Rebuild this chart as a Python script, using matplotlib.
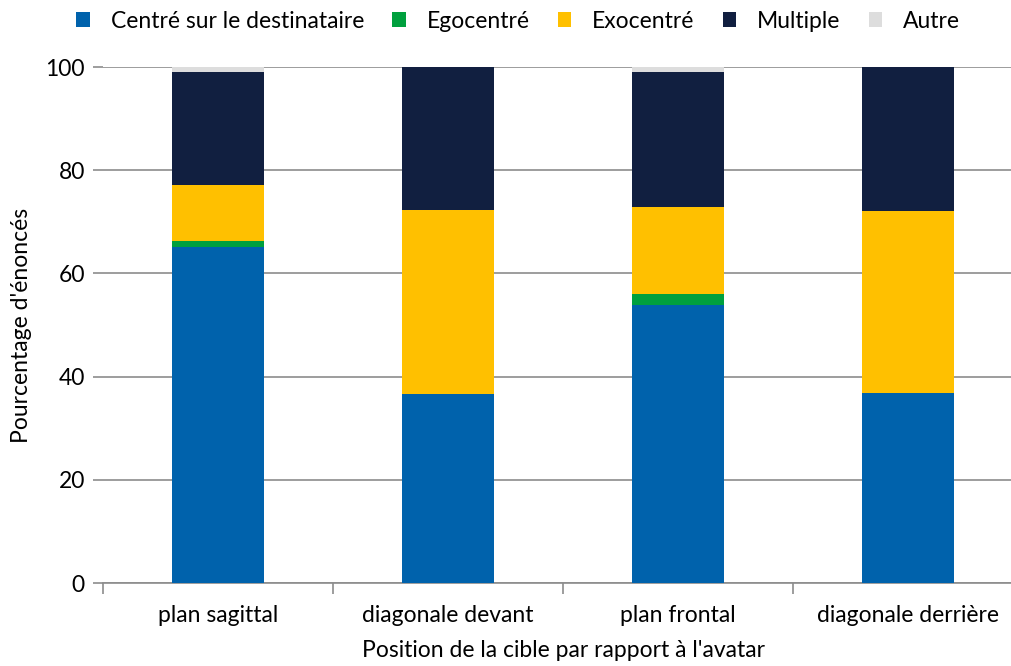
import matplotlib
matplotlib.use("Agg")
import matplotlib.pyplot as plt
import numpy as np

plt.rcParams['font.family'] = ['Lato', 'DejaVu Sans']

categories = ["plan sagittal", "diagonale devant", "plan frontal", "diagonale derrière"]
series_names = ["Centré sur le destinataire", "Egocentré", "Exocentré", "Multiple", "Autre"]
centre = [65.1, 36.6, 53.9, 36.8]
ego = [1.2, 0.0, 2.1, 0.0]
exo = [10.8, 35.7, 16.9, 35.3]
multiple = [22.0, 27.7, 26.1, 27.9]
autre = [0.9, 0.0, 1.0, 0.0]
colors = ["#0062AC", "#00A03E", "#FFC000", "#111F40", "#DDDDDD"]

fs = 16.5
fig = plt.figure(figsize=(10.11, 6.66), dpi=100)
ax = fig.add_axes([103/1011, 1-583/666, 920/1011, 516/666])

x = np.arange(len(categories))
bottom = np.zeros(len(categories))
for name, vals, c in zip(series_names, [centre, ego, exo, multiple, autre], colors):
    ax.bar(x, vals, width=0.4, bottom=bottom, color=c, label=name, zorder=3)
    bottom += np.array(vals)

ax.set_xlim(-0.5, 3.5)
ax.set_ylim(0, 100)
ax.set_yticks([0, 20, 40, 60, 80, 100])
ax.yaxis.grid(True, color="#8C8C8C", linewidth=1.2, zorder=0)
ax.set_xticks(x)
ax.set_xticklabels(categories, fontsize=fs)
ax.set_xticks(np.arange(-0.5, 4, 1), minor=True)
ax.tick_params(axis='x', which='major', length=0, pad=16)
ax.tick_params(axis='x', which='minor', length=8, color="#8C8C8C", width=1.2)
ax.tick_params(axis='y', length=7, color="#8C8C8C", width=1.2, labelsize=fs, pad=6)
for s in ['top', 'right', 'left']:
    ax.spines[s].set_visible(False)
ax.spines['bottom'].set_color("#8C8C8C")
ax.spines['bottom'].set_linewidth(1.2)

ax.set_xlabel("Position de la cible par rapport à l'avatar", fontsize=fs, labelpad=10)
ax.set_ylabel("Pourcentage d'énoncés", fontsize=fs, labelpad=10)

fig.legend(loc='center', bbox_to_anchor=(518/1011, 1-21/666), ncol=5, frameon=False,
           fontsize=fs, handlelength=0.6, handleheight=0.6, handletextpad=0.9,
           columnspacing=1.23)

fig.savefig("out.png", dpi=100)
